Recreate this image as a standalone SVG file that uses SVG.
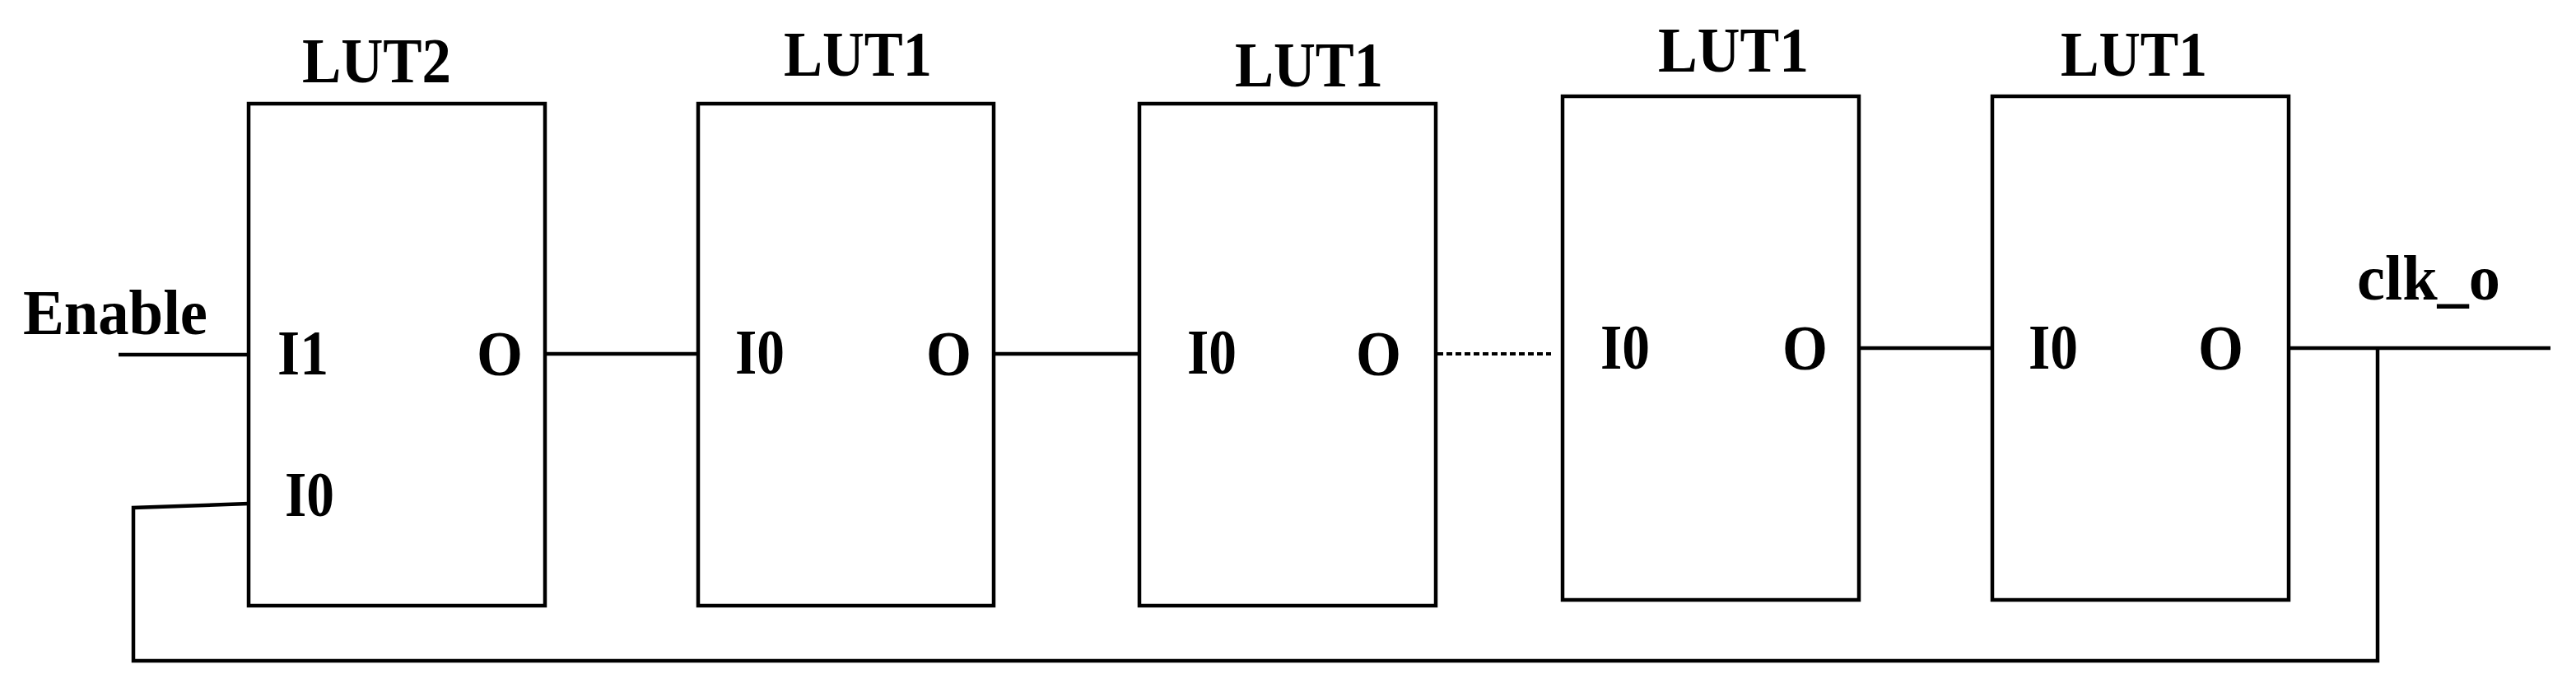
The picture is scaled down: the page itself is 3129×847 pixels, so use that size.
<svg xmlns="http://www.w3.org/2000/svg" width="3129" height="847" viewBox="0 0 3129 847">
<style>
.box{fill:#fff;stroke:#000;stroke-width:4.5}
.w{fill:none;stroke:#000;stroke-width:4.5}
.dot{fill:none;stroke:#000;stroke-width:4;stroke-dasharray:7 4}
text{font-family:"Liberation Serif","Times New Roman",serif;font-weight:bold;font-size:79px;fill:#000}
</style>
<rect width="3129" height="847" fill="#fff"/>
<g id="connectors">
<line class="w" x1="144" y1="431" x2="302" y2="431"/>
<line class="w" x1="662" y1="430" x2="848" y2="430"/>
<line class="w" x1="1207" y1="430" x2="1384" y2="430"/>
<line class="dot" x1="1746" y1="430" x2="1884" y2="430"/>
<line class="w" x1="2258" y1="423" x2="2420" y2="423"/>
<line class="w" x1="2780" y1="423" x2="3098" y2="423"/>
<path class="w" d="M302 612 L162 617 L162 803 L2888 803 L2888 423"/>
</g>
<g id="lut2">
<rect class="box" x="302" y="126" width="360" height="610"/>
<text x="367" y="100" textLength="181" lengthAdjust="spacingAndGlyphs">LUT2</text>
<text x="337" y="455" textLength="62" lengthAdjust="spacingAndGlyphs">I1</text>
<text x="346" y="627" textLength="60" lengthAdjust="spacingAndGlyphs">I0</text>
<text x="579" y="456" textLength="56" lengthAdjust="spacingAndGlyphs">O</text>
</g>
<g id="lut1a">
<rect class="box" x="848" y="126" width="359" height="610"/>
<text x="952" y="92" textLength="180" lengthAdjust="spacingAndGlyphs">LUT1</text>
<text x="893" y="454" textLength="60" lengthAdjust="spacingAndGlyphs">I0</text>
<text x="1125" y="456" textLength="55" lengthAdjust="spacingAndGlyphs">O</text>
</g>
<g id="lut1b">
<rect class="box" x="1384" y="126" width="360" height="610"/>
<text x="1500" y="105" textLength="180" lengthAdjust="spacingAndGlyphs">LUT1</text>
<text x="1442" y="454" textLength="60" lengthAdjust="spacingAndGlyphs">I0</text>
<text x="1647" y="456" textLength="55" lengthAdjust="spacingAndGlyphs">O</text>
</g>
<g id="lut1c">
<rect class="box" x="1898" y="117" width="360" height="612"/>
<text x="2014" y="87" textLength="183" lengthAdjust="spacingAndGlyphs">LUT1</text>
<text x="1944" y="448" textLength="60" lengthAdjust="spacingAndGlyphs">I0</text>
<text x="2165" y="449" textLength="55" lengthAdjust="spacingAndGlyphs">O</text>
</g>
<g id="lut1d">
<rect class="box" x="2420" y="117" width="360" height="612"/>
<text x="2503" y="92" textLength="178" lengthAdjust="spacingAndGlyphs">LUT1</text>
<text x="2464" y="448" textLength="60" lengthAdjust="spacingAndGlyphs">I0</text>
<text x="2670" y="449" textLength="55" lengthAdjust="spacingAndGlyphs">O</text>
</g>
<g id="enable">
<text x="28" y="406" textLength="224" lengthAdjust="spacingAndGlyphs">Enable</text>
</g>
<g id="clk_o">
<text x="2863" y="364" textLength="174" lengthAdjust="spacingAndGlyphs">clk_o</text>
</g>
</svg>
